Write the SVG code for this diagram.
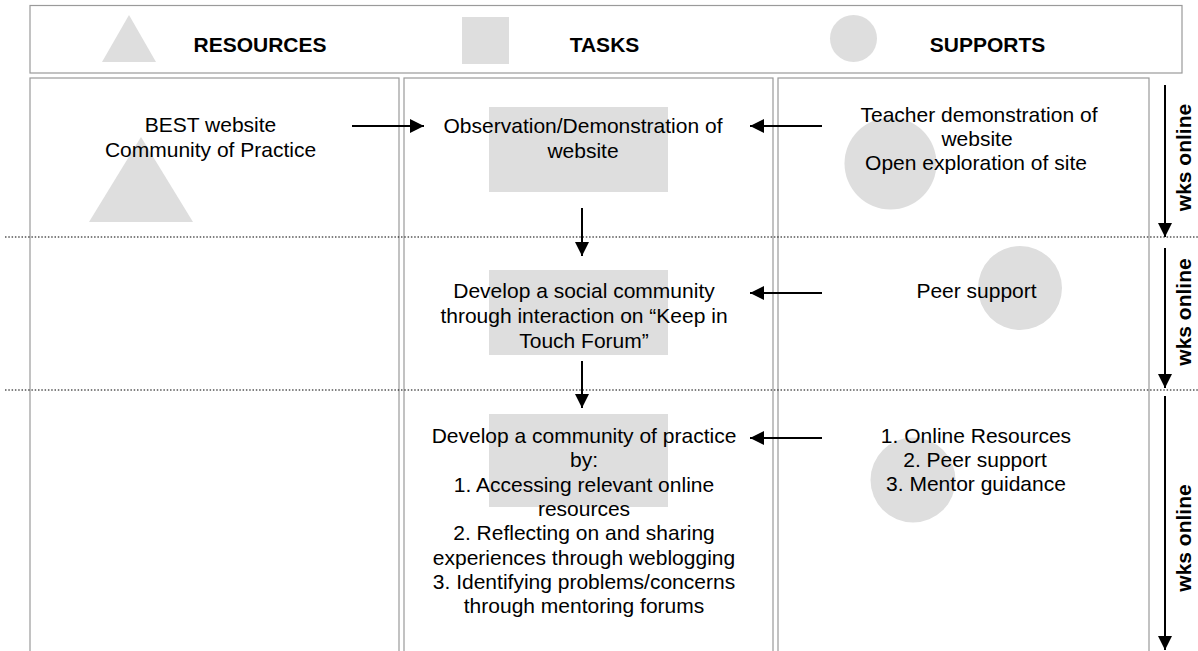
<svg xmlns="http://www.w3.org/2000/svg" width="1198" height="651" viewBox="0 0 1198 651">
<style>
.box{fill:#fff;stroke:#9a9a9a;stroke-width:1.2}
.sh{fill:#dedede;stroke:none}
.t{font-family:"Liberation Sans",Arial,sans-serif;font-size:21px;fill:#000;text-anchor:middle}
.h{font-family:"Liberation Sans",Arial,sans-serif;font-size:21px;font-weight:bold;fill:#000;text-anchor:middle}
.dot{stroke:#000;stroke-width:1.2;stroke-dasharray:1.5,1.8;fill:none}
.ar{stroke:#000;stroke-width:2;fill:none;marker-end:url(#ah)}
</style>
<defs>
<marker id="ah" markerWidth="8" markerHeight="8" refX="7" refY="3.5" orient="auto" markerUnits="strokeWidth">
<path d="M0,0 L7,3.5 L0,7 Z" fill="#000"/>
</marker>
</defs>
<rect width="1198" height="651" fill="#fff"/>
<g id="header">
<rect class="box" x="30" y="5.5" width="1152" height="67.5"/>
<polygon class="sh" points="129,15 156,62 102,62"/>
<text class="h" x="260" y="52">RESOURCES</text>
<rect class="sh" x="462" y="17" width="47" height="47"/>
<text class="h" x="604.5" y="52">TASKS</text>
<circle class="sh" cx="853.5" cy="38.5" r="23.5"/>
<text class="h" x="987.5" y="52">SUPPORTS</text>
</g>
<g id="columns">
<rect class="box" x="30" y="78" width="369" height="600"/>
<rect class="box" x="404" y="78" width="369" height="600"/>
<rect class="box" x="778" y="78" width="371" height="600"/>
</g>
<g id="dividers">
<line class="dot" x1="5" y1="237" x2="1198" y2="237"/>
<line class="dot" x1="5" y1="390" x2="1198" y2="390"/>
</g>
<g id="resource1">
<polygon class="sh" points="141,137 193,222 89,222"/>
<text class="t" x="210.5" y="132">BEST website</text>
<text class="t" x="210.5" y="157">Community of Practice</text>
</g>
<g id="task1">
<rect class="sh" x="489" y="107" width="179" height="85"/>
<text class="t" x="583" y="133">Observation/Demonstration of</text>
<text class="t" x="583" y="158">website</text>
</g>
<g id="task2">
<rect class="sh" x="489" y="270" width="179" height="85"/>
<text class="t" x="584" y="298">Develop a social community</text>
<text class="t" x="584" y="323">through interaction on “Keep in</text>
<text class="t" x="584" y="348">Touch Forum”</text>
</g>
<g id="task3">
<rect class="sh" x="489" y="414" width="179" height="93"/>
<text class="t" x="584" y="443">Develop a community of practice</text>
<text class="t" x="584" y="467">by:</text>
<text class="t" x="584" y="492">1. Accessing relevant online</text>
<text class="t" x="584" y="516">resources</text>
<text class="t" x="584" y="540">2. Reflecting on and sharing</text>
<text class="t" x="584" y="565">experiences through weblogging</text>
<text class="t" x="584" y="589">3. Identifying problems/concerns</text>
<text class="t" x="584" y="613">through mentoring forums</text>
</g>
<g id="support1">
<circle class="sh" cx="890.5" cy="163.5" r="46"/>
<text class="t" x="979" y="122">Teacher demonstration of</text>
<text class="t" x="977" y="146">website</text>
<text class="t" x="976" y="170">Open exploration of site</text>
</g>
<g id="support2">
<circle class="sh" cx="1020" cy="288" r="42"/>
<text class="t" x="976.5" y="298">Peer support</text>
</g>
<g id="support3">
<circle class="sh" cx="913" cy="480" r="42.5"/>
<text class="t" x="976" y="443">1. Online Resources</text>
<text class="t" x="975" y="467">2. Peer support</text>
<text class="t" x="976" y="491">3. Mentor guidance</text>
</g>
<g id="timeline">
<text class="h" transform="translate(1191,157.5) rotate(-90)">wks online</text>
<text class="h" transform="translate(1191,312) rotate(-90)">wks online</text>
<text class="h" transform="translate(1191,538) rotate(-90)">wks online</text>
</g>
<g id="connectors">
<line class="ar" x1="352" y1="126" x2="424" y2="126"/>
<line class="ar" x1="822" y1="126" x2="750" y2="126"/>
<line class="ar" x1="822" y1="293" x2="750" y2="293"/>
<line class="ar" x1="822" y1="438" x2="750" y2="438"/>
<line class="ar" x1="582" y1="208" x2="582" y2="256"/>
<line class="ar" x1="582" y1="361" x2="582" y2="408"/>
<line class="ar" x1="1165" y1="85" x2="1165" y2="237"/>
<line class="ar" x1="1165" y1="248" x2="1165" y2="388"/>
<line class="ar" x1="1165" y1="396" x2="1165" y2="650"/>
</g>
</svg>
